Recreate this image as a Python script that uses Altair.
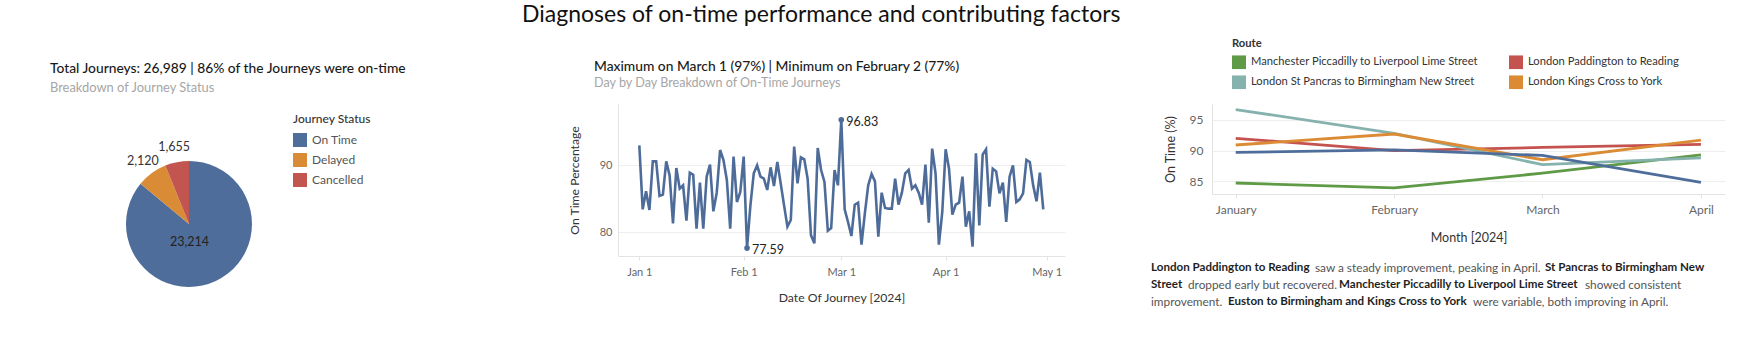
import altair as alt
import pandas as pd

FONT = "Lato"

# ---------------- data ----------------
status_names = ["On Time", "Delayed", "Cancelled"]
status_counts = [23214, 2120, 1655]
status_colors = ["#4f6d9a", "#d98b35", "#c2554f"]

jan_vals = [93.0, 83.4, 86.1, 83.3, 90.6, 90.6, 85.4, 85.6, 90.6, 88.5,
            81.3, 89.6, 86.5, 87.0, 81.7, 88.9, 88.6, 80.5, 87.4, 80.5,
            88.3, 90.1, 83.1, 85.9, 92.3, 90.8, 87.8, 80.5, 91.3, 84.5, 86.0]
feb_vals = [91.3, 77.59, 84.0, 88.8, 90.0, 88.3, 88.0, 86.3, 89.7, 86.9,
            90.5, 87.3, 84.0, 80.8, 81.8, 92.8, 87.3, 91.2, 90.9, 88.0,
            79.5, 78.3, 92.6, 89.3, 87.5, 80.2, 80.6, 89.3, 87.0]
mar_vals = [96.83, 83.4, 81.5, 79.4, 84.1, 84.4, 78.1, 82.8, 87.0, 88.7,
            87.6, 79.3, 85.9, 83.6, 83.5, 83.5, 88.0, 84.1, 85.9, 88.8,
            89.3, 86.5, 87.0, 85.9, 84.1, 90.1, 81.4, 92.5, 88.8, 78.1, 83.0]
apr_vals = [92.4, 89.5, 82.6, 84.1, 84.4, 88.3, 80.8, 83.1, 77.8, 91.8,
            81.0, 91.6, 92.4, 83.8, 89.5, 89.1, 85.8, 87.4, 81.5, 88.3,
            90.0, 84.5, 84.9, 85.8, 90.8, 90.5, 87.0, 84.6, 88.9, 83.4]

route_names = [
    "Manchester Piccadilly to Liverpool Lime Street",
    "London Paddington to Reading",
    "London St Pancras to Birmingham New Street",
    "London Kings Cross to York",
    "London Euston to Birmingham New Street",
]
route_colors = ["#5f9a47", "#c4534f", "#86b2ae", "#dc8b35", "#4f6d9a"]
legend_routes = [route_names[0], route_names[1], route_names[2], route_names[3]]
month_starts = ["2024-01-01T00:00:00", "2024-02-01T00:00:00",
                "2024-03-01T00:00:00", "2024-04-01T00:00:00"]
manchester_vals = [84.7, 83.9, 86.3, 89.3]
paddington_vals = [92.0, 90.0, 90.5, 91.0]
st_pancras_vals = [96.7, 92.8, 87.7, 88.8]
kings_cross_vals = [90.9, 92.7, 88.5, 91.7]
euston_vals = [89.7, 90.1, 89.2, 84.8]

# ---------------- styles ----------------
AX_LABEL = "#666666"
AX_TITLE = "#333333"
AX_LINE = "#e3e3e3"
GRID = "#eeeeee"
LINE_BLUE = "#4e6c9a"
NO_BOX = alt.ViewBackground(stroke="transparent", strokeWidth=0)

# ---------------- panel 1: pie ----------------
pie_df = pd.DataFrame({"status": status_names, "count": status_counts})
order_expr = "indexof([" + ",".join("'" + s + "'" for s in status_names) + "], datum.status)"
PIE_CX, PIE_CY = 146, 120

pie_base = alt.Chart(pie_df).transform_calculate(idx=order_expr).encode(
    theta=alt.Theta("count:Q", stack=True),
    order=alt.Order("idx:Q"),
    detail="status:N",
    x=alt.value(PIE_CX),
    y=alt.value(PIE_CY),
)
pie_arcs = pie_base.mark_arc(outerRadius=63).encode(
    color=alt.Color(
        "status:N",
        scale=alt.Scale(domain=status_names, range=status_colors),
        legend=alt.Legend(
            title="Journey Status", orient="none", legendX=250, legendY=10,
            symbolType="square", symbolSize=196, symbolStrokeWidth=0,
            labelFontSize=12, labelColor="#555555", labelFont=FONT,
            titleFontSize=12, titleFontWeight=500, titleColor="#333333", titleFont=FONT,
            rowPadding=6, titlePadding=7, labelOffset=5, padding=0,
        ),
    )
)
pie_out_labels = pie_base.mark_text(radius=78, fontSize=12.5, color="#333333", font=FONT).encode(
    text=alt.Text("count:Q", format=","),
    opacity=alt.condition("datum.status != 'On Time'", alt.value(1), alt.value(0)),
)
pie_in_labels = pie_base.mark_text(radius=20, dx=-8, fontSize=12.5, color="#222222", font=FONT).encode(
    text=alt.Text("count:Q", format=","),
    opacity=alt.condition("datum.status == 'On Time'", alt.value(1), alt.value(0)),
)
panel1 = alt.layer(pie_arcs, pie_out_labels, pie_in_labels).properties(
    width=428, height=196, view=NO_BOX,
    title=alt.TitleParams(
        text="Total Journeys: 26,989 | 86% of the Journeys were on-time",
        subtitle="Breakdown of Journey Status",
        anchor="start", frame="group", offset=9, dx=7,
        fontSize=13.8, fontWeight=500, color="#1a1a1a", font=FONT,
        subtitleFontSize=12.9, subtitleColor="#a6a6a6", subtitleFont=FONT,
        subtitlePadding=6,
    ),
)

# ---------------- panel 2: daily line ----------------
daily_vals = jan_vals + feb_vals + mar_vals + apr_vals
daily_dates = pd.date_range("2024-01-01", periods=len(daily_vals), freq="D").strftime("%Y-%m-%dT00:00:00")
daily_df = pd.DataFrame({"date": list(daily_dates), "pct": daily_vals})

date_ticks = [alt.DateTime(year=2024, month=m, date=1) for m in [1, 2, 3, 4, 5]]
x2 = alt.X(
    "date:T",
    scale=alt.Scale(domain=[alt.DateTime(year=2023, month=12, date=25, hours=16),
                            alt.DateTime(year=2024, month=5, date=6, hours=11)]),
    axis=alt.Axis(
        values=date_ticks, format="%b %-d", title="Date Of Journey [2024]",
        grid=False, labelColor=AX_LABEL, labelFontSize=11, labelPadding=6,
        titleColor=AX_TITLE, titleFontSize=12.2, titleFontWeight="normal", titlePadding=14,
        domainColor=AX_LINE, tickColor=AX_LINE, tickSize=4, labelFont=FONT, titleFont=FONT,
    ),
)
y2 = alt.Y(
    "pct:Q",
    scale=alt.Scale(domain=[76.4, 99.2], nice=False, zero=False),
    axis=alt.Axis(
        values=[80, 90], title="On Time Percentage", grid=True, gridColor=GRID,
        labelColor=AX_LABEL, labelFontSize=11, labelPadding=6, ticks=False,
        titleColor=AX_TITLE, titleFontSize=12.2, titleFontWeight="normal", titlePadding=18,
        domainColor=AX_LINE, labelFont=FONT, titleFont=FONT,
    ),
)
daily_line = alt.Chart(daily_df).mark_line(color=LINE_BLUE, strokeWidth=2.6).encode(x=x2, y=y2)
extremes = alt.Chart(daily_df).transform_joinaggregate(
    mx="max(pct)", mn="min(pct)"
).transform_filter("datum.pct == datum.mx || datum.pct == datum.mn")
ext_pts = extremes.mark_circle(size=32, color=LINE_BLUE, opacity=1).encode(x=x2, y=y2)
ext_txt = extremes.mark_text(align="left", dx=5, dy=2, fontSize=12.5, color="#222222", font=FONT).encode(
    x=x2, y=y2, text=alt.Text("pct:Q", format=".2f"))
panel2 = alt.layer(daily_line, ext_pts, ext_txt).properties(
    width=447, height=152, view=NO_BOX,
    title=alt.TitleParams(
        text="Maximum on March 1 (97%) | Minimum on February 2 (77%)",
        subtitle="Day by Day Breakdown of On-Time Journeys",
        anchor="start", frame="group", offset=14, dx=-24,
        fontSize=13.8, fontWeight=500, color="#1a1a1a", font=FONT,
        subtitleFontSize=12.6, subtitleColor="#a6a6a6", subtitleFont=FONT,
        subtitlePadding=4,
    ),
)

# ---------------- panel 3: monthly routes ----------------
route_series = [manchester_vals, paddington_vals, st_pancras_vals, kings_cross_vals, euston_vals]
rows = []
for name, vals in zip(route_names, route_series):
    for m, v in zip(month_starts, vals):
        rows.append({"route": name, "month": m, "pct": v})
route_df = pd.DataFrame(rows)

month_ticks = [alt.DateTime(year=2024, month=m, date=1) for m in [1, 2, 3, 4]]
x3 = alt.X(
    "month:T",
    scale=alt.Scale(domain=[alt.DateTime(year=2023, month=12, date=27, hours=8, minutes=40),
                            alt.DateTime(year=2024, month=4, date=5, hours=17)]),
    axis=alt.Axis(
        values=month_ticks, format="%B", title="Month [2024]", grid=False,
        labelColor=AX_LABEL, labelFontSize=12, labelPadding=6,
        titleColor=AX_TITLE, titleFontSize=12.5, titleFontWeight="normal", titlePadding=16,
        domainColor=AX_LINE, tickColor=AX_LINE, tickSize=4, labelFont=FONT, titleFont=FONT,
    ),
)
y3 = alt.Y(
    "pct:Q",
    scale=alt.Scale(domain=[82.9, 97.6], nice=False, zero=False),
    axis=alt.Axis(
        values=[85, 90, 95], title="On Time (%)", grid=True, gridColor=GRID,
        labelColor=AX_LABEL, labelFontSize=12, labelPadding=9, ticks=False,
        titleColor=AX_TITLE, titleFontSize=12.5, titleFontWeight="normal", titlePadding=12,
        domainColor=AX_LINE, labelFont=FONT, titleFont=FONT,
    ),
)
route_lines = alt.Chart(route_df).mark_line().encode(
    x=x3, y=y3,
    strokeWidth=alt.value(2.8),
    color=alt.Color(
        "route:N",
        scale=alt.Scale(domain=route_names, range=route_colors),
        legend=alt.Legend(
            title="Route", values=legend_routes, orient="none", direction="horizontal",
            legendX=20, legendY=-66, clipHeight=14,
            columns=2, columnPadding=30, symbolType="square", symbolSize=49,
            symbolStrokeWidth=7, labelFontSize=11.2, labelColor="#333333", labelFont=FONT,
            titleFontSize=11.2, titleFontWeight="bold", titleColor="#333333", titleFont=FONT,
            rowPadding=6, titlePadding=6, labelOffset=5, padding=0, labelLimit=400,
        ),
    ),
)

one = pd.DataFrame({"k": [0]})
BOLD_C = "#1f1f1f"
NORM_C = "#555555"
BOLD_FS = 11.6
NORM_FS = 11.8
segments = [
    ("London Paddington to Reading", True, -61, 164),
    ("saw a steady improvement, peaking in April.", False, 103, 164),
    ("St Pancras to Birmingham New", True, 333, 164),
    ("Street", True, -61, 181),
    ("dropped early but recovered.", False, -24, 181),
    ("Manchester Piccadilly to Liverpool Lime Street", True, 127, 181),
    ("showed consistent", False, 373, 181),
    ("improvement.", False, -61, 198),
    ("Euston to Birmingham and Kings Cross to York", True, 16, 198),
    ("were variable, both improving in April.", False, 261, 198),
]
seg_layers = []
for txt, bold, sx, sy in segments:
    seg_layers.append(
        alt.Chart(one).mark_text(
            text=txt, align="left", baseline="middle", font=FONT,
            fontSize=BOLD_FS if bold else NORM_FS,
            fontWeight="bold" if bold else "normal", color=BOLD_C if bold else NORM_C,
        ).encode(x=alt.value(sx), y=alt.value(sy))
    )

panel3 = alt.layer(route_lines, *seg_layers).properties(width=513, height=90, view=NO_BOX)

chart = alt.hconcat(panel1, panel2, panel3, spacing=147, bounds="flush").resolve_scale(
    color="independent"
).resolve_legend(color="independent").properties(
    padding={"left": 43, "top": 4, "right": 10, "bottom": 10},
    title=alt.TitleParams(
        text="Diagnoses of on-time performance and contributing factors",
        fontSize=23, fontWeight="normal", color="#111111", font=FONT,
        anchor="start", frame="group", dx=479, offset=11,
    ),
).configure_view(stroke="transparent", strokeWidth=0).configure(font=FONT, background="white")

chart.save("out.html", embed_options={"renderer": "svg", "actions": False})
